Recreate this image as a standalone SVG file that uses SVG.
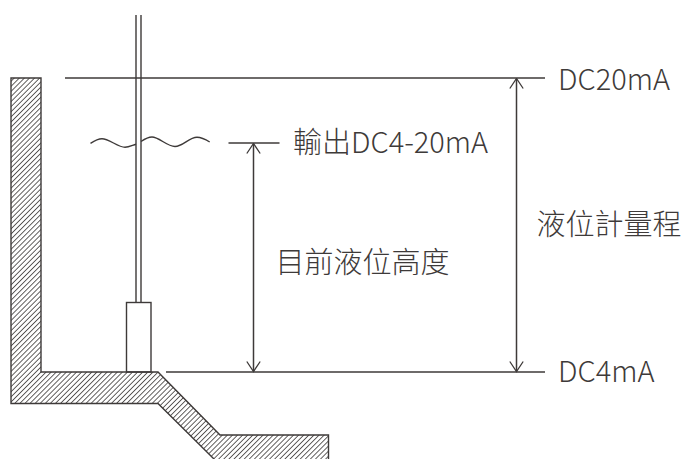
<svg xmlns="http://www.w3.org/2000/svg" width="684" height="459" viewBox="0 0 684 459">
<style>
.l{fill:none;stroke:#3e3a39;stroke-width:1.4}
.d{fill:none;stroke:#3e3a39;stroke-width:1.5}
.t{font-family:"Noto Sans CJK TC","Noto Sans",sans-serif;font-size:29px;font-weight:300;fill:#3e3a39}
</style>
<defs>
<pattern id="h" width="3.6" height="3.6" patternUnits="userSpaceOnUse" patternTransform="rotate(45)">
<rect width="3.6" height="3.6" fill="#fff"/><rect width="0.8" height="3.6" fill="#3e3a39"/>
</pattern>
<marker id="a" viewBox="-11 -8 12 16" refX="0" refY="0" markerWidth="12" markerHeight="16" markerUnits="userSpaceOnUse" orient="auto-start-reverse">
<path d="M-10 -6.700L0 0L-10 6.700" fill="none" stroke="#3e3a39" stroke-width="1.3"/>
</marker>
</defs>
<g id="tank">
<path d="M11 78H41V372H158L220 435H328.500V459H214L158 403.500H11Z" fill="url(#h)"/>
<path class="l" d="M328.500 459V435H220L158 372H41V78H11V403.500H158L214 459"/>
</g>
<g id="sensor">
<rect class="l" x="126.500" y="302.500" width="24.500" height="69.500" fill="#fff"/>
<path class="l" d="M136 15V302.500M141 15V302.500"/>
</g>
<g id="liquid-surface">
<path class="l" d="M90.500 143.300C94 141 98 138.700 102 138.700C109 138.700 118 147.300 125 147.300C129 147.300 133 145 136 144.300M141 141.500C144 139.500 148 137 152 137C159 137 167 146.500 175 146.500C183 146.500 189 137.300 197 137.300C202 137.300 206 139.700 209.700 142"/>
</g>
<g id="connectors">
<path class="l" d="M65 78H545"/>
<path class="l" d="M228.500 143H279.500"/>
<path class="d" d="M166 372H545"/>
<path class="d" d="M253.500 143.500V371.500" marker-start="url(#a)" marker-end="url(#a)"/>
<path class="d" d="M516.500 78.500V371.500" marker-start="url(#a)" marker-end="url(#a)"/>
</g>
<g id="labels">
<text class="t" x="558" y="89.500">DC20mA</text>
<text class="t" x="558" y="381.500">DC4mA</text>
<text class="t" x="293" y="153">輸出DC4-20mA</text>
<text class="t" x="536.500" y="235">液位計量程</text>
<text class="t" x="275.500" y="273">目前液位高度</text>
</g>
</svg>
